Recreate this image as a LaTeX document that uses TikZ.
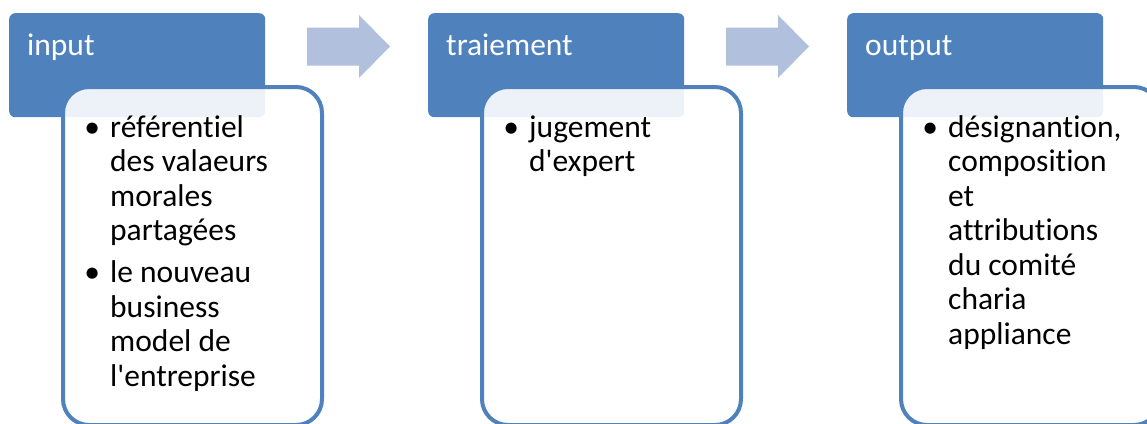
\documentclass[tikz,border=0pt]{standalone}
\usepackage{fontspec}
\setmainfont[Ligatures=NoCommon]{Carlito}

\definecolor{hdblue}{HTML}{4F81BD}
\definecolor{arrowblue}{HTML}{B0C0DD}

\tikzset{
  head/.style={fill=hdblue, rounded corners=6pt, minimum width=256pt, minimum height=104pt, anchor=north west, inner sep=0pt},
  panel/.style={draw=hdblue, line width=4pt, fill=white, fill opacity=0.9, rounded corners=26pt, minimum width=259pt, minimum height=338pt, anchor=north west, inner sep=0pt},
  headtext/.style={text=white, anchor=base west, inner sep=0pt, font=\fontsize{31.5}{34.5}\selectfont},
  bullets/.style={anchor=base west, inner sep=0pt, font=\fontsize{31.5}{34.5}\selectfont},
  steparrow/.style={fill=arrowblue}
}
\newcommand{\bul}{\makebox[27pt][l]{\makebox[18pt]{\textbullet}}}

\begin{document}
\begin{tikzpicture}[x=1pt,y=-1pt]
\useasboundingbox (0,0) rectangle (1147,423);
\clip (0,0) rectangle (1147,423);
\fill[white] (0,0) rectangle (1147,423);

% header, title and panel of each stage
\foreach \dx/\name/\title in {0/in/input, 419/proc/traiement, 838/out/output} {
  \node[head] (\name head) at (9+\dx,13) {};
  \node[headtext] (\name title) at (27+\dx,55) {\title};
  \node[panel] (\name box) at (61+\dx,85) {};
}

% block arrows between stages
\foreach \dx in {0,419}
  \fill[steparrow] (307+\dx,27.5) -- ++(52,0) -- ++(0,-12.5) -- ++(31,31.5) -- ++(-31,31.5) -- ++(0,-12.5) -- ++(-52,0) -- cycle;

\node[bullets] (inlist) at (83,137) {\begin{tabular}[t]{@{}l@{}l@{}}
\bul & référentiel\\ & des valaeurs\\ & morales\\ & partagées\\[7.5pt]
\bul & le nouveau\\ & business\\ & model de\\ & l\textquotesingle entreprise
\end{tabular}};

\node[bullets] (proclist) at (502,137) {\begin{tabular}[t]{@{}l@{}l@{}}
\bul & jugement\\ & d\textquotesingle expert
\end{tabular}};

\node[bullets] (outlist) at (921,137) {\begin{tabular}[t]{@{}l@{}l@{}}
\bul & désignantion,\\ & composition\\ & et\\ & attributions\\ & du comité\\ & charia\\ & appliance
\end{tabular}};
\end{tikzpicture}
\end{document}
